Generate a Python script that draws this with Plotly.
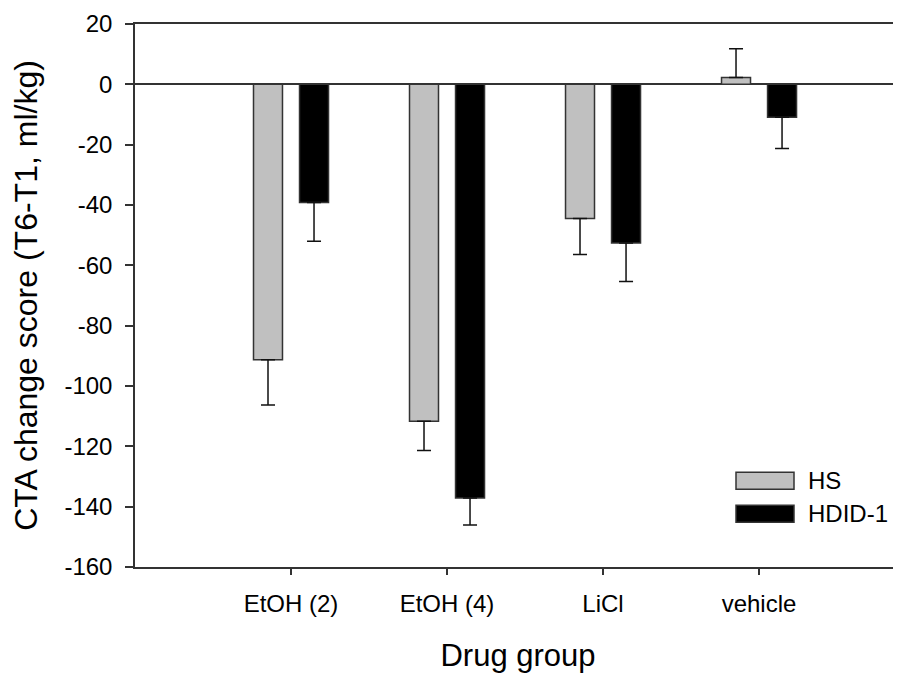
import plotly.graph_objects as go

categories = ["EtOH (2)", "EtOH (4)", "LiCl", "vehicle"]
series_names = ["HS", "HDID-1"]
hs_values = [-91.3, -111.7, -44.5, 2.3]
hs_se = [15.0, 9.7, 11.9, 9.5]
hdid_values = [-39.2, -137.1, -52.6, -10.9]
hdid_se = [12.8, 9.0, 12.8, 10.4]
y_ticks = [20, 0, -20, -40, -60, -80, -100, -120, -140, -160]
y_tick_labels = ["20", "0", "-20", "-40", "-60", "-80", "-100", "-120", "-140", "-160"]

colors = ["#c0c0c0", "#000000"]
edge = "#333333"
FONT = "Liberation Sans, Arial, sans-serif"

# the page adds an 8px offset; the figure is sized so the page does not scroll
OFF = 8
W, H = 901 - OFF, 681 - 2 * OFF
ML, MT = 135 - OFF, 23.5 - OFF
MB = H - (566.7 - OFF)
MR = 0


def err(vals, se):
    up = [s if v > 0 else 0 for v, s in zip(vals, se)]
    down = [s if v <= 0 else 0 for v, s in zip(vals, se)]
    return dict(type="data", symmetric=False, array=up, arrayminus=down,
                color="#111111", thickness=1.5, width=7)


fig = go.Figure()
for name, vals, se, col in zip(series_names, [hs_values, hdid_values], [hs_se, hdid_se], colors):
    fig.add_trace(go.Bar(
        x=categories, y=vals, name=name,
        marker=dict(color=col, line=dict(color=edge, width=1.5)),
        error_y=err(vals, se),
        showlegend=False,
    ))

# custom legend (wide swatches like the original)
pw = W - ML - MR
ph = H - MT - MB
def px_to_paper_x(px):
    return (px - OFF - ML) / pw
def px_to_paper_y(py):
    return 1 - (py - OFF - MT) / ph

leg_y = [480.5, 513.5]
for name, col, cy in zip(series_names, colors, leg_y):
    fig.add_shape(type="rect", xref="paper", yref="paper",
                  x0=px_to_paper_x(736), x1=px_to_paper_x(794),
                  y0=px_to_paper_y(cy - 8.5), y1=px_to_paper_y(cy + 8.5),
                  fillcolor=col, line=dict(color=edge, width=1.5))
    fig.add_annotation(text=name, xref="paper", yref="paper",
                       x=px_to_paper_x(806), y=px_to_paper_y(cy),
                       xanchor="left", yanchor="middle", showarrow=False,
                       font=dict(family=FONT, size=24, color="#000000"))

fig.update_layout(
    width=W, height=H,
    margin=dict(l=ML, r=MR, t=MT, b=MB, pad=0, autoexpand=False),
    paper_bgcolor="white", plot_bgcolor="white",
    barmode="group", bargap=0.41, bargroupgap=0.37,
    font=dict(family=FONT, color="#000000"),
    xaxis=dict(
        range=[-1, 3.91], showgrid=False, zeroline=False, automargin=False,
        showline=True, linecolor=edge, linewidth=1.5, mirror=True,
        ticks="outside", ticklen=6, tickwidth=1.5, tickcolor=edge,
        ticklabelstandoff=8,
        tickfont=dict(family=FONT, size=24, color="#000000"),
        title=dict(text="Drug group", font=dict(family=FONT, size=31, color="#000000"), standoff=30),
    ),
    yaxis=dict(
        range=[-160, 20], tickvals=y_ticks, ticktext=y_tick_labels, showgrid=False,
        automargin=False,
        zeroline=True, zerolinecolor=edge, zerolinewidth=1.5,
        showline=True, linecolor=edge, linewidth=1.5, mirror=False,
        ticks="outside", ticklen=8, tickwidth=1.5, tickcolor=edge,
        ticklabelstandoff=8,
        tickfont=dict(family=FONT, size=24, color="#000000"),
        title=dict(text="CTA change score (T6-T1, ml/kg)",
                   font=dict(family=FONT, size=32, color="#000000"), standoff=20),
    ),
)

fig.write_html("out.html")
